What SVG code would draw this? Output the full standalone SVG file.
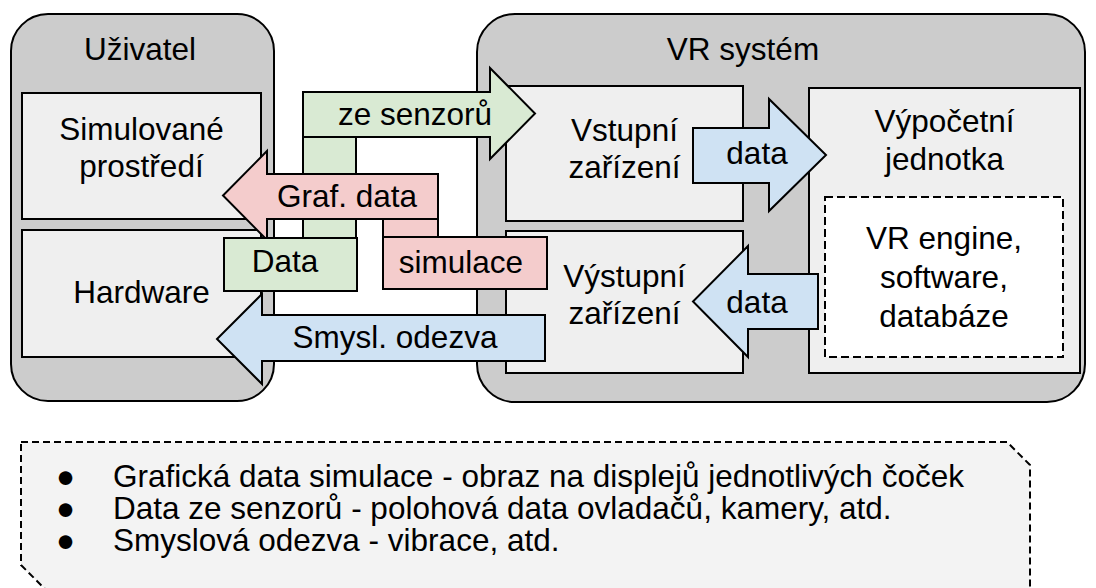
<svg xmlns="http://www.w3.org/2000/svg" width="1096" height="588" viewBox="0 0 1096 588">
<style>
text{font-family:"Liberation Sans",Arial,sans-serif;font-size:31.5px;fill:#000;text-anchor:middle}
.cont{fill:#cccccc;stroke:#000;stroke-width:2}
.box{fill:#efefef;stroke:#000;stroke-width:2}
.dash{fill:#fff;stroke:#000;stroke-width:2;stroke-dasharray:8 4}
.g{fill:#d9ead3;stroke:#000;stroke-width:2}
.r{fill:#f4cccc;stroke:#000;stroke-width:2}
.b{fill:#cfe2f3;stroke:#000;stroke-width:2}
.note{fill:#f3f3f3;stroke:#000;stroke-width:2;stroke-dasharray:7 4}
.l{text-anchor:start}
</style>
<rect width="1096" height="588" fill="#fff"/>
<g id="uzivatel">
<rect class="cont" x="11" y="14" width="263" height="387" rx="37"/>
<text x="140" y="60">Uživatel</text>
</g>
<g id="vr-system">
<rect class="cont" x="477" y="14" width="608" height="388" rx="38"/>
<text x="743" y="60">VR systém</text>
</g>
<g id="simulovane-prostredi">
<rect class="box" x="22" y="93" width="239" height="126"/>
<text x="141.5" y="140">Simulované</text>
<text x="141.5" y="177">prostředí</text>
</g>
<g id="hardware">
<rect class="box" x="22" y="230" width="239" height="127"/>
<text x="141.5" y="303">Hardware</text>
</g>
<g id="vstupni-zarizeni">
<rect class="box" x="506" y="86" width="237" height="135"/>
<text x="624.5" y="141">Vstupní</text>
<text x="624.5" y="178">zařízení</text>
</g>
<g id="vystupni-zarizeni">
<rect class="box" x="506" y="231" width="237" height="142"/>
<text x="624.5" y="287">Výstupní</text>
<text x="624.5" y="324">zařízení</text>
</g>
<g id="vypocetni-jednotka">
<rect class="box" x="809" y="88" width="271" height="285"/>
<text x="944.5" y="132">Výpočetní</text>
<text x="944.5" y="170">jednotka</text>
</g>
<g id="vr-engine">
<rect class="dash" x="825" y="197" width="238" height="160"/>
<text x="944" y="249">VR engine,</text>
<text x="944" y="288">software,</text>
<text x="944" y="327">databáze</text>
</g>
<g id="connectors">
<polygon class="g" points="303,92 490,92 490,68 535,113.5 490,159 490,137 303,137"/>
<text x="415" y="125">ze senzorů</text>
<rect class="g" x="303" y="137" width="53" height="101"/>
<polygon class="r" points="438,174 267,174 267,151 223,195.5 267,240 267,219 438,219"/>
<text x="347" y="207">Graf. data</text>
<rect class="r" x="383" y="219" width="55" height="18"/>
<rect class="r" x="383" y="237" width="164" height="52"/>
<text x="461" y="273">simulace</text>
<rect class="g" x="224" y="238" width="133" height="53"/>
<text x="285" y="272">Data</text>
<polygon class="b" points="545,315 262,315 262,294 217,339 262,384 262,361 545,361"/>
<text x="395" y="348">Smysl. odezva</text>
<polygon class="b" points="693,128 769,128 769,99 826,155 769,211 769,183 693,183"/>
<text x="757" y="164">data</text>
<polygon class="b" points="818,274 748,274 748,246 693,301.5 748,357 748,329 818,329"/>
<text x="757" y="313">data</text>
</g>
<g id="legend">
<polygon class="note" points="21,442 1007,442 1030,465 1030,590 46,590 21,565"/>
<text class="l" x="56" y="487">●</text>
<text class="l" x="113" y="487">Grafická data simulace - obraz na displejů jednotlivých čoček</text>
<text class="l" x="56" y="519">●</text>
<text class="l" x="113" y="519">Data ze senzorů - polohová data ovladačů, kamery, atd.</text>
<text class="l" x="56" y="551">●</text>
<text class="l" x="113" y="551">Smyslová odezva - vibrace, atd.</text>
</g>
</svg>
